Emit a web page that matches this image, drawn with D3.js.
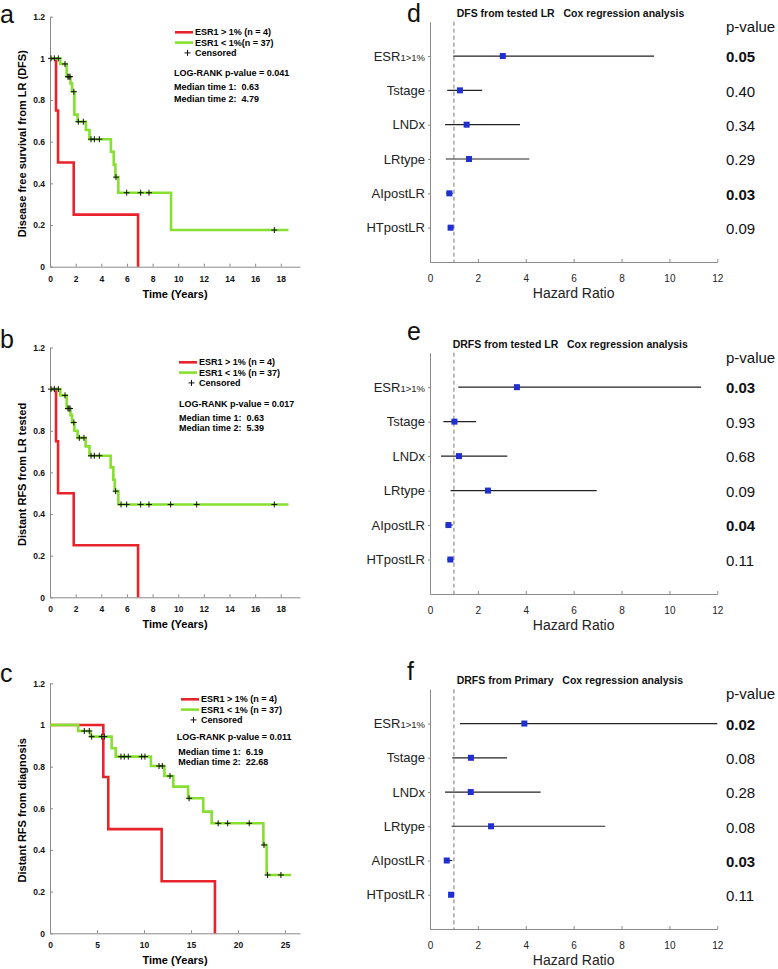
<!DOCTYPE html>
<html>
<head>
<meta charset="utf-8">
<script src="https://cdn.jsdelivr.net/npm/d3@7"></script>
<style>
body { margin:0; background:#fff; }
svg { display:block; }
text { font-family:"Liberation Sans", Arial, sans-serif; }
</style>
</head>
<body>
<div id="chart-area"></div>
<script>
// ---------- Kaplan-Meier data : [time, survival after time] ----------
var yTicksKM = [0, 0.2, 0.4, 0.6, 0.8, 1, 1.2];
var xTicksAB = [0, 2, 4, 6, 8, 10, 12, 14, 16, 18];
var xTicksC  = [0, 5, 10, 15, 20, 25];

// panel a
var aRed   = [[0,1],[0.47,0.75],[0.63,0.5],[1.85,0.25],[6.87,0]];
var aGreen = [[0,1],[0.8,0.973],[1.3,0.912],[1.6,0.88],[1.72,0.84],[1.9,0.73],[2.15,0.696],
              [2.8,0.656],[3.08,0.612],[4.75,0.552],[4.97,0.49],[5.1,0.43],[5.33,0.355],[9.44,0.176]];
var aGreenEnd = 18.6;
var aCensor = [0.08,0.34,0.65,1.17,1.4,1.48,1.56,1.86,2.21,2.6,3.2,3.46,3.85,5.15,5.98,7.07,7.72,17.5];
var aLegend = ["ESR1 > 1% (n = 4)", "ESR1 < 1%(n = 37)", "Censored"];
var aStats  = ["LOG-RANK p-value = 0.041", "Median time 1:  0.63", "Median time 2:  4.79"];

// panel b
var bRed   = [[0,1],[0.47,0.75],[0.63,0.5],[1.85,0.25],[6.87,0]];
var bGreen = [[0,1],[0.8,0.97],[1.3,0.907],[1.6,0.875],[1.72,0.84],[1.9,0.8],[2.15,0.766],
              [2.78,0.725],[3.08,0.68],[4.73,0.624],[4.94,0.565],[5.05,0.51],[5.33,0.446]];
var bGreenEnd = 18.6;
var bCensor = [0.08,0.34,0.65,1.17,1.4,1.48,1.56,1.86,2.29,2.65,3.2,3.46,3.85,5.12,5.54,5.98,7.07,7.72,9.41,11.44,17.5];
var bLegend = ["ESR1 > 1% (n = 4)", "ESR1 < 1% (n = 37)", "Censored"];
var bStats  = ["LOG-RANK p-value = 0.017", "Median time 1:  0.63", "Median time 2:  5.39"];

// panel c
var cRed   = [[0,1],[5.67,0.75],[6.2,0.5],[11.88,0.25],[17.55,0]];
var cGreen = [[0,1],[3.0,0.971],[4.3,0.944],[6.56,0.888],[6.99,0.848],[10.74,0.803],[12.17,0.755],
              [13.12,0.704],[14.7,0.648],[16.31,0.584],[17.2,0.528],[22.7,0.424],[23.05,0.28]];
var cGreenEnd = 25.64;
var cCensor = [3.65,4.18,4.43,5.5,5.78,7.55,7.9,8.33,9.75,10.1,11.6,11.95,12.77,14.8,17.9,18.9,21.2,22.77,23.15,24.57];
var cLegend = ["ESR1 > 1% (n = 4)", "ESR1 < 1% (n = 37)", "Censored"];
var cStats  = ["LOG-RANK p-value = 0.011", "Median time 1:  6.19", "Median time 2:  22.68"];

// ---------- Cox regression data ----------
var coxVars = ["ESR", "Tstage", "LNDx", "LRtype", "AIpostLR", "HTpostLR"];
var coxSub  = ["1>1%", "", "", "", "", ""];
var hrTicks = [0, 2, 4, 6, 8, 10, 12];

var dHR = [3.04, 1.25, 1.53, 1.63, 0.81, 0.86];
var dLo = [0.97, 0.72, 0.63, 0.66, 0.67, 0.75];
var dHi = [9.36, 2.18, 3.76, 4.15, 0.95, 0.98];
var dP  = ["0.05", "0.40", "0.34", "0.29", "0.03", "0.09"];

var eHR = [3.63, 1.02, 1.21, 2.42, 0.77, 0.85];
var eLo = [1.18, 0.56, 0.46, 0.86, 0.65, 0.72];
var eHi = [11.32, 1.92, 3.23, 6.96, 0.95, 0.98];
var eP  = ["0.03", "0.93", "0.68", "0.09", "0.04", "0.11"];

var fHR = [3.94, 1.71, 1.70, 2.55, 0.70, 0.88];
var fLo = [1.25, 0.93, 0.63, 0.90, 0.60, 0.80];
var fHi = [12.0, 3.22, 4.62, 7.32, 0.93, 0.95];
var fP  = ["0.02", "0.08", "0.28", "0.08", "0.03", "0.11"];

var RED = "#e8232b", GREEN = "#86e02f", BLUE = "#1f2fd0", AXIS = "#8a8a8a";

var svg = d3.select("#chart-area")
    .append("svg")
        .attr("width", 778)
        .attr("height", 969);

function panel_letter(txt, x, y){
    svg.append("text")
        .attr("x", x).attr("y", y)
        .attr("font-size", "25px")
        .attr("fill", "#111")
        .text(txt);
}

function style_axis(g){
    g.select(".domain").attr("stroke", AXIS);
    g.selectAll(".tick line").attr("stroke", AXIS);
}

function km_chart(config){
    var x = d3.scaleLinear().domain([0, config.xMax]).range([50, 300]);
    var y = d3.scaleLinear().domain([0, 1.2]).range([config.bottom, config.top]);

    var xAxis = svg.append("g")
        .attr("transform", "translate(0," + config.bottom + ")")
        .call(d3.axisBottom(x).tickValues(config.xTicks).tickSize(-3).tickSizeOuter(0).tickPadding(9));
    var yAxis = svg.append("g")
        .attr("transform", "translate(50,0)")
        .call(d3.axisLeft(y).tickValues(yTicksKM).tickSize(-3).tickSizeOuter(0).tickPadding(5)
            .tickFormat(function(d){ return (d === 0 || d === 1) ? d : d.toFixed(1); }));
    [xAxis, yAxis].forEach(function(g){
        style_axis(g);
        g.selectAll("text")
            .attr("font-family", "'Liberation Serif', serif")
            .attr("font-weight", "bold")
            .attr("font-size", "8.5px")
            .attr("fill", "#111");
    });

    svg.append("text")
        .attr("x", 175).attr("y", config.bottom + 31)
        .attr("text-anchor", "middle")
        .attr("font-weight", "bold").attr("font-size", "11px")
        .text("Time (Years)");

    var cy = (config.top + config.bottom) / 2 + 2;
    svg.append("text")
        .attr("transform", "translate(26," + cy + ") rotate(-90)")
        .attr("text-anchor", "middle")
        .attr("font-weight", "bold").attr("font-size", "11px")
        .text(config.ylabel);

    var line = d3.line()
        .x(function(d){ return x(d[0]); })
        .y(function(d){ return y(d[1]); })
        .curve(d3.curveStepAfter);

    function withEnd(steps, end){
        var pts = steps.slice();
        if (end != null) pts.push([end, steps[steps.length - 1][1]]);
        return pts;
    }

    svg.append("path")
        .attr("d", line(withEnd(config.red, null)))
        .attr("fill", "none").attr("stroke", RED).attr("stroke-width", 2.6);
    svg.append("path")
        .attr("d", line(withEnd(config.green, config.greenEnd)))
        .attr("fill", "none").attr("stroke", GREEN).attr("stroke-width", 2.6);

    var bis = d3.bisector(function(d){ return d[0]; }).right;
    function surv(t){
        return config.green[Math.max(0, bis(config.green, t) - 1)][1];
    }

    svg.selectAll(null)
        .data(config.censor)
        .enter()
        .append("path")
            .attr("transform", function(d){ return "translate(" + x(d) + "," + y(surv(d)) + ")"; })
            .attr("d", "M-3,0H3M0,-3V3")
            .attr("stroke", "#111").attr("stroke-width", 1);

    // legend
    var lg = config.legend;
    var colors = [RED, GREEN];
    config.legendText.forEach(function(t, i){
        var ly = lg.y + i * 10.3;
        if (i < 2){
            svg.append("line")
                .attr("x1", lg.x).attr("x2", lg.x + 18)
                .attr("y1", ly).attr("y2", ly)
                .attr("stroke", colors[i]).attr("stroke-width", 2.6);
        } else {
            svg.append("path")
                .attr("transform", "translate(" + (lg.x + 12.5) + "," + ly + ")")
                .attr("d", "M-3,0H3M0,-3V3")
                .attr("stroke", "#111").attr("stroke-width", 1);
        }
        svg.append("text")
            .attr("x", lg.x + 20).attr("y", ly)
            .attr("dy", "0.35em")
            .attr("font-weight", "bold").attr("font-size", "9px")
            .text(t);
    });

    config.stats.forEach(function(t, i){
        var st = config.statPos[i];
        svg.append("text")
            .attr("x", st[0]).attr("y", st[1])
            .attr("dy", "0.35em")
            .style("white-space", "pre")
            .attr("font-weight", "bold").attr("font-size", "9px")
            .text(t);
    });
}

function forest_chart(config){
    var x = d3.scaleLinear().domain([0, 12]).range([430, 717.3]);
    var y = d3.scaleLinear().domain([0, 7]).range([config.top, config.bottom]);
    var rows = d3.range(coxVars.length);

    var xAxis = svg.append("g")
        .attr("transform", "translate(0," + config.bottom + ")")
        .call(d3.axisBottom(x).tickValues(hrTicks).tickSize(-3).tickSizeOuter(0).tickPadding(13));
    style_axis(xAxis);
    xAxis.selectAll("text")
        .attr("font-family", "'Liberation Serif', serif")
        .attr("font-size", "10px")
        .attr("fill", "#222");

    var yAxis = svg.append("g")
        .attr("transform", "translate(430,0)")
        .call(d3.axisLeft(y).tickValues(rows.map(function(i){ return i + 1; }))
            .tickSize(2).tickSizeOuter(0).tickFormat(""));
    style_axis(yAxis);

    svg.append("line")
        .attr("x1", x(1)).attr("x2", x(1))
        .attr("y1", config.top).attr("y2", config.bottom)
        .attr("stroke", "#777").attr("stroke-width", 1)
        .attr("stroke-dasharray", "4,3");

    svg.append("text")
        .attr("x", config.titleX).attr("y", config.top - 5)
        .style("white-space", "pre")
        .attr("font-weight", "bold").attr("font-size", "10.5px")
        .attr("fill", "#111")
        .text(config.title);

    var labels = svg.selectAll(null)
        .data(rows)
        .enter()
        .append("text")
            .attr("x", 425)
            .attr("y", function(i){ return y(i + 1); })
            .attr("dy", "0.35em")
            .attr("text-anchor", "end")
            .attr("font-size", "13px")
            .attr("fill", "#222")
            .text(function(i){ return coxVars[i]; });
    labels.filter(function(i){ return coxSub[i] !== ""; })
        .append("tspan")
            .attr("font-size", "9.5px")
            .text(function(i){ return coxSub[i]; });

    svg.selectAll(null)
        .data(rows)
        .enter()
        .append("line")
            .attr("x1", function(i){ return x(config.lo[i]); })
            .attr("x2", function(i){ return x(config.hi[i]); })
            .attr("y1", function(i){ return y(i + 1); })
            .attr("y2", function(i){ return y(i + 1); })
            .attr("stroke", "#222").attr("stroke-width", 1.2);

    svg.selectAll(null)
        .data(rows)
        .enter()
        .append("rect")
            .attr("x", function(i){ return x(config.hr[i]) - 3; })
            .attr("y", function(i){ return y(i + 1) - 3; })
            .attr("width", 6).attr("height", 6)
            .attr("fill", BLUE);

    svg.append("text")
        .attr("x", 726).attr("y", config.top + 10)
        .attr("font-size", "15px")
        .attr("fill", "#111")
        .text("p-value");

    svg.selectAll(null)
        .data(rows)
        .enter()
        .append("text")
            .attr("x", 726)
            .attr("y", function(i){ return y(i + 1) + 1; })
            .attr("dy", "0.35em")
            .attr("font-size", "15px")
            .attr("font-weight", function(i){ return +config.p[i] <= 0.05 ? "bold" : "normal"; })
            .attr("fill", "#111")
            .text(function(i){ return config.p[i]; });

    svg.append("text")
        .attr("x", x(6)).attr("y", config.bottom + 36)
        .attr("text-anchor", "middle")
        .attr("font-size", "14px")
        .attr("fill", "#222")
        .text("Hazard Ratio");
}

km_chart({
    top: 16.7, bottom: 266.7, xMax: 19.5, xTicks: xTicksAB,
    red: aRed, green: aGreen, greenEnd: aGreenEnd, censor: aCensor,
    ylabel: "Disease free survival from LR (DFS)",
    legend: { x: 175, y: 32.3 }, legendText: aLegend,
    stats: aStats, statPos: [[174, 72.7], [174, 86.7], [174, 99]]
});
km_chart({
    top: 347.5, bottom: 597.3, xMax: 19.5, xTicks: xTicksAB,
    red: bRed, green: bGreen, greenEnd: bGreenEnd, censor: bCensor,
    ylabel: "Distant RFS from LR tested",
    legend: { x: 179, y: 362.3 }, legendText: bLegend,
    stats: bStats, statPos: [[179, 404.3], [179, 417.7], [179, 428.3]]
});
km_chart({
    top: 683.3, bottom: 933.3, xMax: 26.6, xTicks: xTicksC,
    red: cRed, green: cGreen, greenEnd: cGreenEnd, censor: cCensor,
    ylabel: "Distant RFS from diagnosis",
    legend: { x: 181, y: 699.3 }, legendText: cLegend,
    stats: cStats, statPos: [[176.7, 737.3], [178.3, 751.7], [178.3, 761.7]]
});

forest_chart({ top: 21.7, bottom: 262, titleX: 456.7,
    title: "DFS from tested LR   Cox regression analysis",
    hr: dHR, lo: dLo, hi: dHi, p: dP });
forest_chart({ top: 352.7, bottom: 594, titleX: 452.7,
    title: "DRFS from tested LR   Cox regression analysis",
    hr: eHR, lo: eLo, hi: eHi, p: eP });
forest_chart({ top: 689.3, bottom: 929, titleX: 456.7,
    title: "DRFS from Primary   Cox regression analysis",
    hr: fHR, lo: fLo, hi: fHi, p: fP });

panel_letter("a", 0, 23);
panel_letter("b", 0, 348);
panel_letter("c", 0, 682);
panel_letter("d", 407, 22);
panel_letter("e", 407, 340);
panel_letter("f", 407, 680);
</script>
</body>
</html>
